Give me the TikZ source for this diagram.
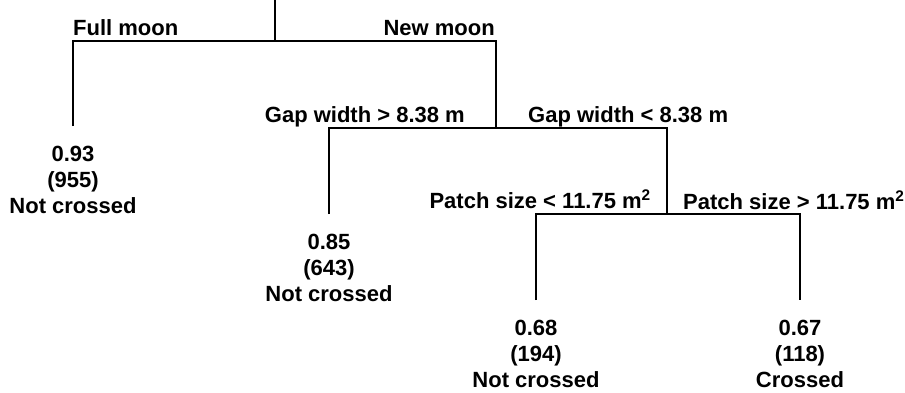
\documentclass[tikz,border=0pt]{standalone}
\usepackage{fontspec}
\setmainfont{Liberation Sans}
\begin{document}
\begin{tikzpicture}[x=1pt,y=-1pt,
  branch/.style={line width=2pt, line join=miter},
  lbl/.style={inner sep=0pt, font=\fontsize{22}{26}\selectfont\bfseries},
  leaf/.style={lbl, align=center, anchor=north, inner xsep=0pt, inner ysep=19.5pt}]
\useasboundingbox (0,0) rectangle (905,392);

% split points
\coordinate (top) at (275,0);
\coordinate (s1) at (275,41);
\coordinate (s2) at (496,128);
\coordinate (s3) at (667,214);

% terminal nodes
\node[leaf] (l1) at (73,126)  {0.93\\(955)\\Not crossed};
\node[leaf] (l2) at (329,214) {0.85\\(643)\\Not crossed};
\node[leaf] (l3) at (536,300) {0.68\\(194)\\Not crossed};
\node[leaf] (l4) at (800,300) {0.67\\(118)\\Crossed};

% branches
\draw[branch] (top) -- (s1);
\draw[branch] (l1.north) |- (s1) -| (s2);
\draw[branch] (l2.north) |- (s2) -| (s3);
\draw[branch] (l3.north) |- (s3) -| (l4.north);

% split conditions
\node[lbl, anchor=base west] (c1l) at (73,35)  {Full moon};
\node[lbl, anchor=base east] (c1r) at (495,35) {New moon};
\node[lbl, anchor=base east] (c2l) at (465,122) {Gap width > 8.38 m};
\node[lbl, anchor=base west] (c2r) at (528,122) {Gap width < 8.38 m};
\node[lbl, anchor=base east] (c3l) at (651,208) {Patch size < 11.75 m\textsuperscript{2}};
\node[lbl, anchor=base west] (c3r) at (683,209) {Patch size > 11.75 m\textsuperscript{2}};
\end{tikzpicture}
\end{document}
